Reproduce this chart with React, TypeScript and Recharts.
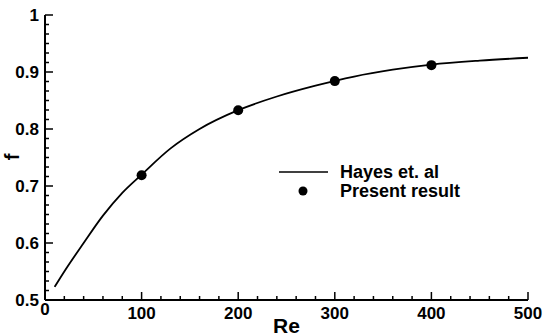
import React from "react";
import {
  ComposedChart,
  Line,
  Scatter,
  XAxis,
  YAxis,
} from "recharts";

// Hayes et. al curve
const curveRe = [10, 20, 40, 60, 80, 100, 130, 160, 200, 240, 280, 320, 360, 400, 450, 500];
const curveF = [0.523, 0.55, 0.6, 0.648, 0.688, 0.72, 0.766, 0.8, 0.833, 0.857, 0.876, 0.892, 0.904, 0.913, 0.92, 0.925];

// present result markers
const pointRe = [100, 200, 300, 400];
const pointF = [0.719, 0.833, 0.884, 0.912];

const xMajor = [0, 100, 200, 300, 400, 500];
const yMajor = [0.5, 0.6, 0.7, 0.8, 0.9, 1];

const curveData = curveRe.map((re, i) => ({ re, f: curveF[i] }));
const pointData = pointRe.map((re, i) => ({ re, f: pointF[i] }));

// minor ticks: 4 between x majors, 5 between y majors
const xTicks: number[] = [];
for (let i = 0; i < xMajor.length - 1; i++) {
  for (let k = 0; k < 5; k++) xTicks.push(xMajor[i] + (k * (xMajor[i + 1] - xMajor[i])) / 5);
}
xTicks.push(xMajor[xMajor.length - 1]);
const yTicks: number[] = [];
for (let i = 0; i < yMajor.length - 1; i++) {
  for (let k = 0; k < 6; k++) yTicks.push(yMajor[i] + (k * (yMajor[i + 1] - yMajor[i])) / 6);
}
yTicks.push(yMajor[yMajor.length - 1]);

const FONT = '"Liberation Sans", Arial, sans-serif';

const isMajor = (v: number, majors: number[]) => majors.some((m) => Math.abs(m - v) < 1e-6);

const XTick = (props: any) => {
  const { x, y, payload } = props;
  const v = payload.value;
  const major = isMajor(v, xMajor);
  return (
    <g>
      <line x1={x} x2={x} y1={y} y2={y - (major ? 8 : 4)} stroke="#000" strokeWidth={1.5} />
      {major && (
        <text
          x={x}
          y={y + (v === 0 ? 15 : 19)}
          textAnchor="middle"
          fontFamily={FONT}
          fontWeight="bold"
          fontSize={17}
          fill="#000"
        >
          {v}
        </text>
      )}
    </g>
  );
};

const YTick = (props: any) => {
  const { x, y, payload } = props;
  const v = payload.value;
  const major = isMajor(v, yMajor);
  return (
    <g>
      <line x1={x} x2={x + (major ? 8 : 4)} y1={y} y2={y} stroke="#000" strokeWidth={1.5} />
      {major && (
        <text
          x={x - 6}
          y={y + 6}
          textAnchor="end"
          fontFamily={FONT}
          fontWeight="bold"
          fontSize={17}
          fill="#000"
        >
          {v === 1 ? "1" : v.toFixed(1)}
        </text>
      )}
    </g>
  );
};

const LegendBox = () => (
  <svg
    width={220}
    height={40}
    style={{ position: "absolute", left: 279, top: 163, display: "block" }}
  >
    <line x1={0} x2={49} y1={9} y2={9} stroke="#000" strokeWidth={1.5} />
    <text x={61} y={15} fontFamily={FONT} fontWeight="bold" fontSize={18} fill="#000">
      Hayes et. al
    </text>
    <circle cx={24} cy={28} r={4.5} fill="#000" />
    <text x={61} y={34} fontFamily={FONT} fontWeight="bold" fontSize={18} fill="#000">
      Present result
    </text>
  </svg>
);

export default function App() {
  return (
    <div style={{ position: "absolute", left: 0, top: 0, width: 545, height: 336, background: "#fff" }}>
      <ComposedChart width={545} height={336} margin={{ top: 15, right: 17, bottom: 0, left: 0 }}>
        <XAxis
          dataKey="re"
          type="number"
          domain={[0, 500]}
          ticks={xTicks}
          interval={0}
          height={36}
          tickSize={0}
          tickMargin={0}
          tickLine={false}
          tick={<XTick />}
          axisLine={{ stroke: "#000", strokeWidth: 2 }}
          allowDuplicatedCategory={false}
          label={{
            value: "Re",
            position: "insideBottom",
            offset: 3,
            style: { fontFamily: FONT, fontWeight: "bold", fontSize: 21, fill: "#000" },
          }}
        />
        <YAxis
          type="number"
          domain={[0.5, 1]}
          ticks={yTicks}
          interval={0}
          width={45}
          tickSize={0}
          tickMargin={0}
          tickLine={false}
          tick={<YTick />}
          axisLine={{ stroke: "#000", strokeWidth: 2 }}
          label={{
            content: () => (
              <text
                transform="translate(19,157) rotate(-90)"
                textAnchor="middle"
                fontFamily={FONT}
                fontWeight="bold"
                fontSize={20}
                fill="#000"
              >
                f
              </text>
            ),
          }}
        />
        <Line
          data={curveData}
          dataKey="f"
          type="monotone"
          stroke="#000"
          strokeWidth={1.8}
          dot={false}
          isAnimationActive={false}
          name="Hayes et. al"
        />
        <Scatter
          data={pointData}
          dataKey="f"
          fill="#000"
          shape={(p: any) => <circle cx={p.cx} cy={p.cy} r={5} fill="#000" />}
          isAnimationActive={false}
          name="Present result"
        />
      </ComposedChart>
      <LegendBox />
    </div>
  );
}
